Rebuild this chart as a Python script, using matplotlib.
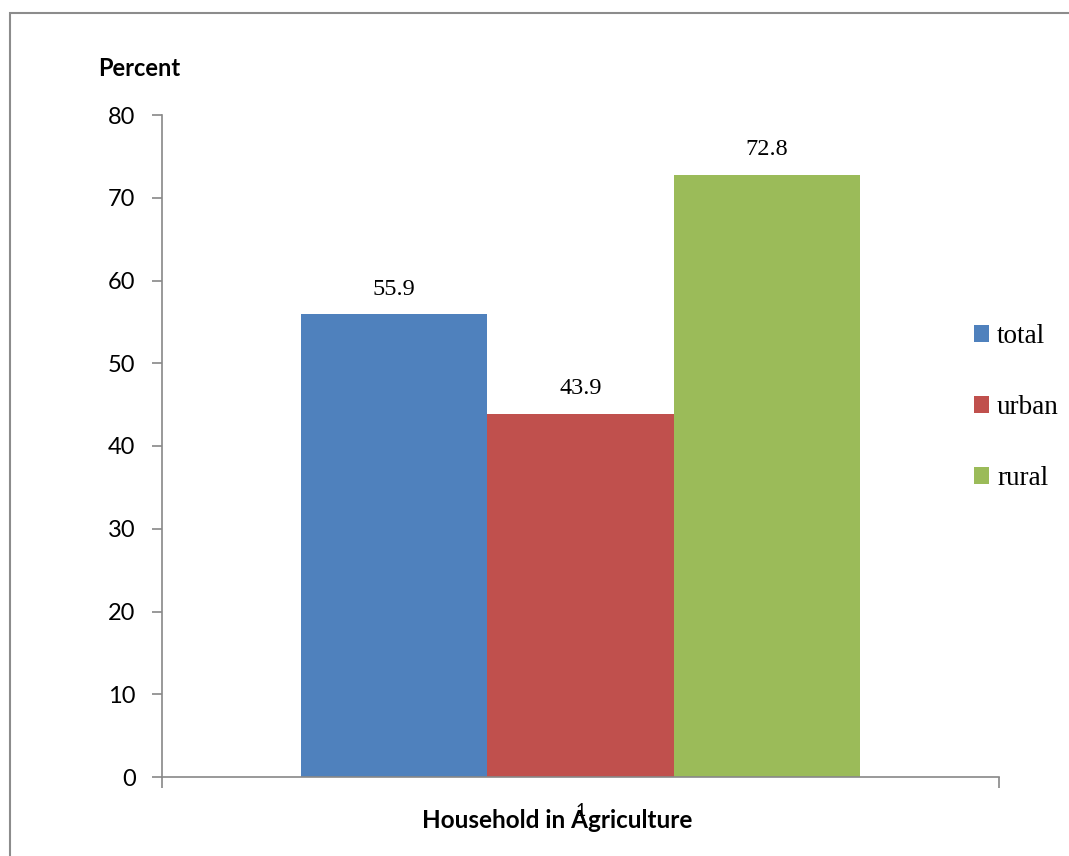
import matplotlib
matplotlib.use("Agg")
import matplotlib.pyplot as plt
from matplotlib.patches import Rectangle

categories = ["1"]
series_names = ["total", "urban", "rural"]
values = [55.9, 43.9, 72.8]
colors = ["#4F81BD", "#C0504D", "#9BBB59"]
yticks = [0, 10, 20, 30, 40, 50, 60, 70, 80]

W, H = 1069, 856
fig = plt.figure(figsize=(W / 100, H / 100), dpi=100)
ax = fig.add_axes([162 / W, 1 - 777 / H, (999 - 162) / W, (777 - 115) / H])

sans = "Lato"
serif = "Liberation Serif"

bw = 0.223
offsets = [-bw, 0, bw]
handles = []
for name, v, c, off in zip(series_names, values, colors, offsets):
    b = ax.bar(0 + off, v, width=bw, color=c, label=name, zorder=2)
    handles.append(b)
    ax.text(0 + off, v + 3.0, f"{v:.1f}", ha="center", va="center",
            fontsize=17.5, family=serif, color="#000000")

ax.set_xlim(-0.5, 0.5)
ax.set_ylim(0, 80)
ax.set_yticks(yticks)
ax.set_yticklabels([str(t) for t in yticks], fontsize=17, family=sans)
ax.set_xticks([0])
ax.set_xticklabels(categories, fontsize=13, family=sans)
ax.set_xticks([-0.5, 0.5], minor=True)
ax.tick_params(axis="x", which="major", length=0, pad=19)
ax.tick_params(axis="x", which="minor", length=8, color="#888888", width=1.2)
ax.tick_params(axis="y", length=7, color="#888888", width=1.2, pad=12)

for s in ["top", "right"]:
    ax.spines[s].set_visible(False)
for s in ["left", "bottom"]:
    ax.spines[s].set_color("#888888")
    ax.spines[s].set_linewidth(1.2)

fig.text(557 / W, 1 - 820 / H, "Household in Agriculture", fontsize=17.5,
         family=sans, fontweight="bold", ha="center", va="center")
fig.text(98 / W, 1 - 68 / H, "Percent", fontsize=17, family=sans,
         fontweight="bold", ha="left", va="center")

leg = fig.legend(handles=handles, labels=series_names, loc="upper left",
                 bbox_to_anchor=(974 / W, 1 - 324 / H), frameon=False,
                 prop={"family": serif, "size": 19.5}, handlelength=0.55,
                 handleheight=0.55, handletextpad=0.3, labelspacing=1.7,
                 borderaxespad=0, borderpad=0)

fig.patches.append(Rectangle((10 / W, -0.1), 1.2, 1.1 - 13 / H,
                             transform=fig.transFigure, fill=False,
                             edgecolor="#8c8c8c", linewidth=1.5))

fig.savefig("out.png", dpi=100)
